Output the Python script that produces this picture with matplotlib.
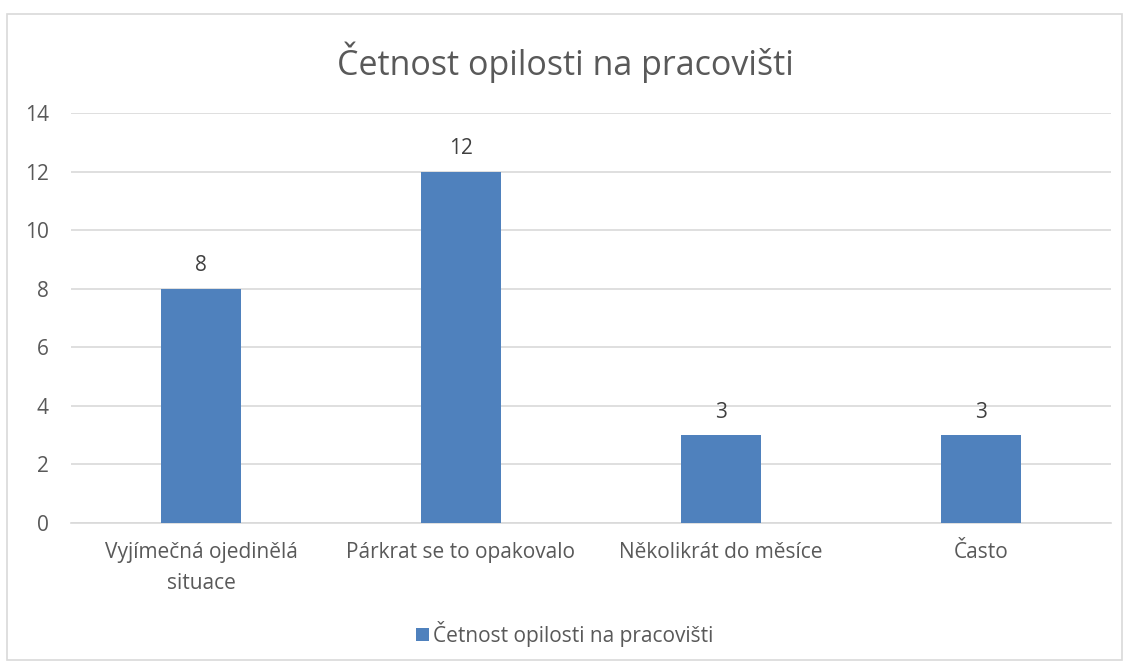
import matplotlib
matplotlib.use("Agg")
import matplotlib.pyplot as plt
from matplotlib.patches import Rectangle

categories = ["Vyjímečná ojedinělá\nsituace", "Párkrat se to opakovalo",
              "Několikrát do měsíce", "Často"]
values = [8, 12, 3, 3]
series_name = "Četnost opilosti na pracovišti"
title = "Četnost opilosti na pracovišti"
yticks = [0, 2, 4, 6, 8, 10, 12, 14]

plt.rcParams['font.family'] = ['Open Sans', 'DejaVu Sans']
text_col = '#595959'
bar_col = '#4F81BD'
grid_col = '#D9D9D9'

fig = plt.figure(figsize=(11.3, 6.68), dpi=100)
# chart border
fig.patches.append(Rectangle((7 / 1130, 1 - 660 / 668), 1115 / 1130, 646 / 668,
                             transform=fig.transFigure, fill=False,
                             edgecolor='#D9D9D9', linewidth=1.2))

ax = fig.add_axes([71 / 1130, 1 - 523 / 668, 1040 / 1130, 410 / 668])
x = list(range(len(categories)))
bars = ax.bar(x, values, width=0.31, color=bar_col, label=series_name, zorder=3)
ax.set_xlim(-0.5, len(categories) - 0.5)
ax.set_ylim(0, 14)
ax.set_yticks(yticks)
ax.set_xticks(x)
ax.set_xticklabels(categories, fontsize=15, color=text_col, linespacing=1.6)
ax.tick_params(axis='y', labelsize=15, labelcolor=text_col, length=0, pad=16)
ax.tick_params(axis='x', length=0, pad=14)
ax.yaxis.grid(True, color=grid_col, linewidth=1.2, zorder=0)
for s in ['top', 'right', 'left']:
    ax.spines[s].set_visible(False)
ax.spines['bottom'].set_color(grid_col)
ax.spines['bottom'].set_linewidth(1.2)

for b, v in zip(bars, values):
    ax.annotate(str(v), (b.get_x() + b.get_width() / 2, v), xytext=(0, 9),
                textcoords='offset points', ha='center', va='bottom',
                fontsize=15, color='#404040')

fig.text(0.5, 1 - 62 / 668, title, ha='center', va='center', fontsize=24.5, color=text_col)

leg = fig.legend(loc='center', bbox_to_anchor=(0.5, 1 - 634 / 668), frameon=False,
                 fontsize=15, handlelength=0.6, handleheight=0.6, handletextpad=0.2)
for t in leg.get_texts():
    t.set_color(text_col)

fig.savefig("out.png", dpi=100)
